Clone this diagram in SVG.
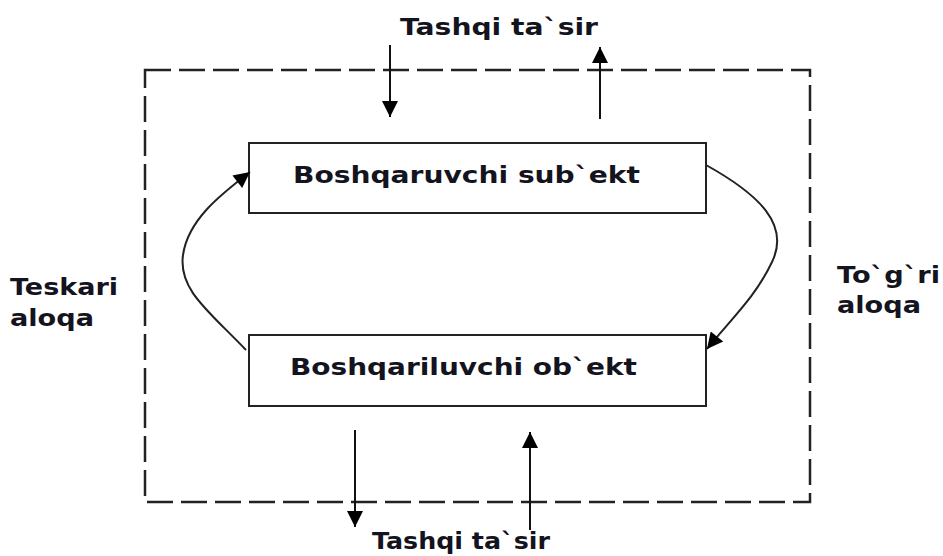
<svg xmlns="http://www.w3.org/2000/svg" width="943" height="556" viewBox="0 0 943 556">
<defs>
<style>
.t{font-family:"DejaVu Sans","Verdana",sans-serif;font-weight:bold;font-size:23px;fill:#141420}
.box{fill:#fff;stroke:#222;stroke-width:2}
.ln{fill:none;stroke:#111;stroke-width:2}
.cv{fill:none;stroke:#222;stroke-width:2}
</style>
<marker id="ah2" viewBox="0 0 10 10" refX="10" refY="5" markerWidth="18" markerHeight="16" orient="auto" markerUnits="userSpaceOnUse">
<path d="M0,0 L10,5 L0,10 z" fill="#000"/>
</marker>
</defs>
<rect width="943" height="556" fill="#fff"/>
<g id="frame">
<rect x="145" y="70" width="665" height="432" fill="none" stroke="#222" stroke-width="2.5" stroke-dasharray="26,8"/>
</g>
<g id="subject">
<rect class="box" x="249" y="143" width="457" height="70"/>
<text class="t" x="293" y="183" textLength="347" lengthAdjust="spacingAndGlyphs">Boshqaruvchi  sub`ekt</text>
</g>
<g id="object">
<rect class="box" x="249" y="335" width="457" height="71"/>
<text class="t" x="290" y="375" textLength="347" lengthAdjust="spacingAndGlyphs">Boshqariluvchi  ob`ekt</text>
</g>
<g id="labels">
<text class="t" x="400" y="35" textLength="198" lengthAdjust="spacingAndGlyphs">Tashqi  ta`sir</text>
<text class="t" x="372" y="549" textLength="178" lengthAdjust="spacingAndGlyphs">Tashqi  ta`sir</text>
<text class="t" x="10" y="295" textLength="108" lengthAdjust="spacingAndGlyphs">Teskari</text>
<text class="t" x="10" y="326" textLength="84" lengthAdjust="spacingAndGlyphs">aloqa</text>
<text class="t" x="837" y="283" textLength="103" lengthAdjust="spacingAndGlyphs">To`g`ri</text>
<text class="t" x="837" y="313" textLength="84" lengthAdjust="spacingAndGlyphs">aloqa</text>
</g>
<g id="connectors">
<line class="ln" x1="390" y1="45" x2="390" y2="117" marker-end="url(#ah2)"/>
<line class="ln" x1="600" y1="119" x2="600" y2="47" marker-end="url(#ah2)"/>
<line class="ln" x1="355" y1="430" x2="355" y2="527" marker-end="url(#ah2)"/>
<line class="ln" x1="530" y1="530" x2="530" y2="432" marker-end="url(#ah2)"/>
<path class="cv" d="M246,350 C210,312 178,290 183,255 C188,220 220,195 250,172" marker-end="url(#ah2)"/>
<path class="cv" d="M706,165 C760,195 790,225 772,262 C755,298 730,320 707,349" marker-end="url(#ah2)"/>
</g>
</svg>
